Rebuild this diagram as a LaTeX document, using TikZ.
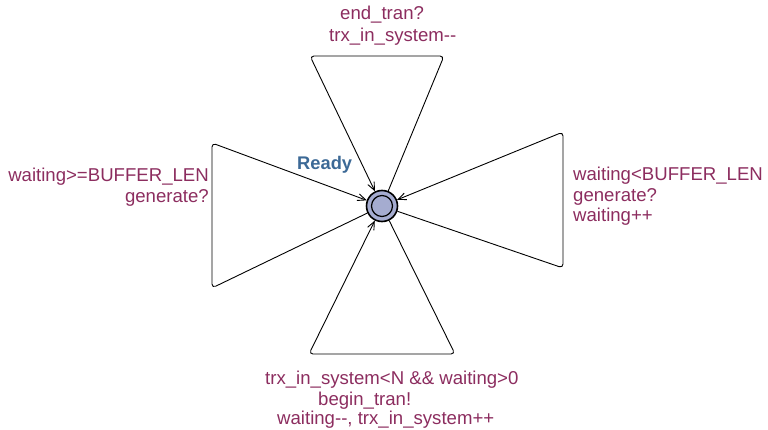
\documentclass[tikz,border=0pt]{standalone}
\usepackage{fontspec}
\setmainfont{Liberation Sans}
\usetikzlibrary{arrows.meta}
\definecolor{lblcol}{RGB}{140,45,95}
\definecolor{loccol}{RGB}{165,172,208}
\definecolor{namecol}{RGB}{60,105,150}

\begin{document}
\begin{tikzpicture}[x=1pt,y=-1pt,
    loc/.style={circle,draw,line width=1.6pt,fill=loccol,minimum size=31pt,inner sep=0pt},
    initloc/.style={circle,draw,line width=1.2pt,minimum size=21pt,inner sep=0pt},
    loopline/.style={line width=0.9pt,rounded corners=4pt,-{Straight Barb[length=8pt,width=7pt]}},
    lbl/.style={text=lblcol,font=\fontsize{18.6}{21}\selectfont,inner sep=0pt}]
    \useasboundingbox (0,0) rectangle (768,430);

    % the one location
    \node[loc] (ready) at (382,206) {};
    \node[initloc] (readyin) at (382,206) {};
    \node[anchor=base west, text=namecol, inner sep=0pt,
          font=\bfseries\fontsize{18.3}{20}\selectfont] (readyname) at (297,170) {Ready};

    % nails of the four self-loops
    \coordinate (topl) at (310,56);
    \coordinate (topr) at (444,56);
    \coordinate (botl) at (309,354);
    \coordinate (botr) at (455,354);
    \coordinate (leftt) at (212,143);
    \coordinate (leftb) at (212,288);
    \coordinate (rightt) at (563,132);
    \coordinate (rightb) at (563,268);

    \draw[loopline] (ready) -- (topr) -- (topl) -- (ready);
    \draw[loopline] (ready) -- (botr) -- (botl) -- (ready);
    \draw[loopline] (ready) -- (leftb) -- (leftt) -- (ready);
    \draw[loopline] (ready) -- (rightb) -- (rightt) -- (ready);

    % Labels: guard, sync, update
    \node[lbl, anchor=base west] (topsync) at (340,20) {end\_tran?};
    \node[lbl, anchor=base west] (topupd) at (329,42) {trx\_in\_system-{}-};

    \node[lbl, anchor=base east] (leftguard) at (209,182) {waiting>=BUFFER\_LEN};
    \node[lbl, anchor=base east] (leftsync) at (209,203) {generate?};

    \node[lbl, anchor=base west] (rightguard) at (573,181) {waiting<BUFFER\_LEN};
    \node[lbl, anchor=base west] (rightsync) at (573,202) {generate?};
    \node[lbl, anchor=base west] (rightupd) at (573,222) {waiting++};

    \node[lbl, anchor=base west] (botguard) at (265,384) {trx\_in\_system<N \&\& waiting>0};
    \node[lbl, anchor=base west] (botsync) at (318,405) {begin\_tran!};
    \node[lbl, anchor=base west] (botupd) at (277,424) {waiting-{}-, trx\_in\_system++};
\end{tikzpicture}
\end{document}
